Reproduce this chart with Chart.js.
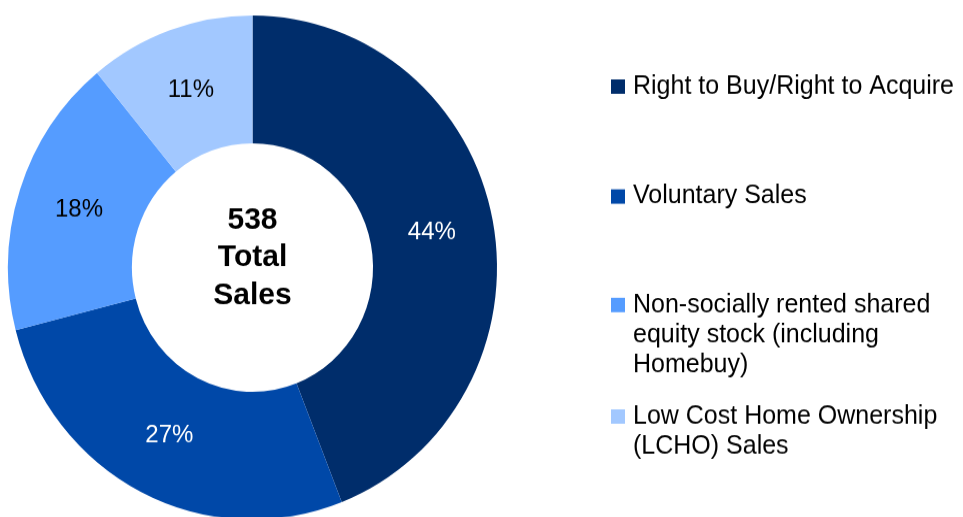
<!DOCTYPE html>
<html>
<head>
<meta charset="utf-8">
<script src="https://cdn.jsdelivr.net/npm/chart.js@4"></script>
<style>
  html, body { margin: 0; padding: 0; background: #fff; overflow: hidden; }
  #wrap { width: 963px; height: 517px; overflow: hidden; }
  /* the original picture is a little taller than wide, so stretch the canvas */
  #salesChart { transform: scaleY(1.031); transform-origin: 0 0; }
</style>
</head>
<body>
<div id="wrap">
  <canvas id="salesChart" width="963" height="510" style="width:963px;height:510px"></canvas>
</div>
<script>
const categories = [
    'Right to Buy/Right to Acquire',
    'Voluntary Sales',
    'Non-socially rented shared equity stock (including Homebuy)',
    'Low Cost Home Ownership (LCHO) Sales'
];
const sales = [237, 145, 97, 59];
const percentLabels = ['44%', '27%', '18%', '11%'];
const centerLines = ['538', 'Total', 'Sales'];
const colors = ['#002D6B', '#0048A8', '#559CFF', '#A2C8FF'];
const labelColors = ['#ffffff', '#ffffff', '#000000', '#000000'];

const FONT = '"Liberation Sans", Arial, sans-serif';

// percentages on the slices + the total in the middle
const sliceText = {
    id: 'sliceText',
    afterDatasetsDraw(chart) {
        const ctx = chart.ctx;
        const meta = chart.getDatasetMeta(0);
        ctx.save();
        ctx.textAlign = 'center';
        ctx.textBaseline = 'middle';
        ctx.font = '24px ' + FONT;
        meta.data.forEach((arc, i) => {
            const p = arc.tooltipPosition();
            ctx.fillStyle = labelColors[i];
            ctx.fillText(percentLabels[i], p.x, p.y);
        });
        const c = meta.data[0];
        ctx.fillStyle = '#000';
        ctx.font = 'bold 30px ' + FONT;
        centerLines.forEach((t, i) => {
            ctx.fillText(t, c.x, c.y - 46 + i * 36.5);
        });
        ctx.restore();
    }
};

// legend on the right, wrapped like the original
const sideLegend = {
    id: 'sideLegend',
    afterDraw(chart) {
        const ctx = chart.ctx;
        const tops = [84, 190.6, 295.8, 404];
        const maxWidth = 340;
        const lineH = 29;
        ctx.save();
        ctx.font = '25px ' + FONT;
        ctx.textBaseline = 'middle';
        ctx.textAlign = 'left';
        categories.forEach((label, i) => {
            const words = label.split(' ');
            const lines = [];
            let cur = '';
            words.forEach(w => {
                const test = cur ? cur + ' ' + w : w;
                if (ctx.measureText(test).width > maxWidth && cur) {
                    lines.push(cur);
                    cur = w;
                } else {
                    cur = test;
                }
            });
            lines.push(cur);

            ctx.fillStyle = colors[i];
            ctx.fillRect(611, tops[i] - 7, 14, 14);
            ctx.fillStyle = '#000';
            lines.forEach((ln, j) => ctx.fillText(ln, 633, tops[i] + j * lineH));
        });
        ctx.restore();
    }
};

new Chart(document.getElementById('salesChart'), {
    type: 'doughnut',
    data: {
        labels: categories,
        datasets: [{
            data: sales,
            backgroundColor: colors,
            borderWidth: 0
        }]
    },
    options: {
        responsive: false,
        animation: false,
        cutout: '49.3%',
        layout: {
            padding: { left: 8, right: 466, top: 15, bottom: 6 }
        },
        plugins: {
            legend: { display: false },
            tooltip: { enabled: false }
        }
    },
    plugins: [sliceText, sideLegend]
});
</script>
</body>
</html>
